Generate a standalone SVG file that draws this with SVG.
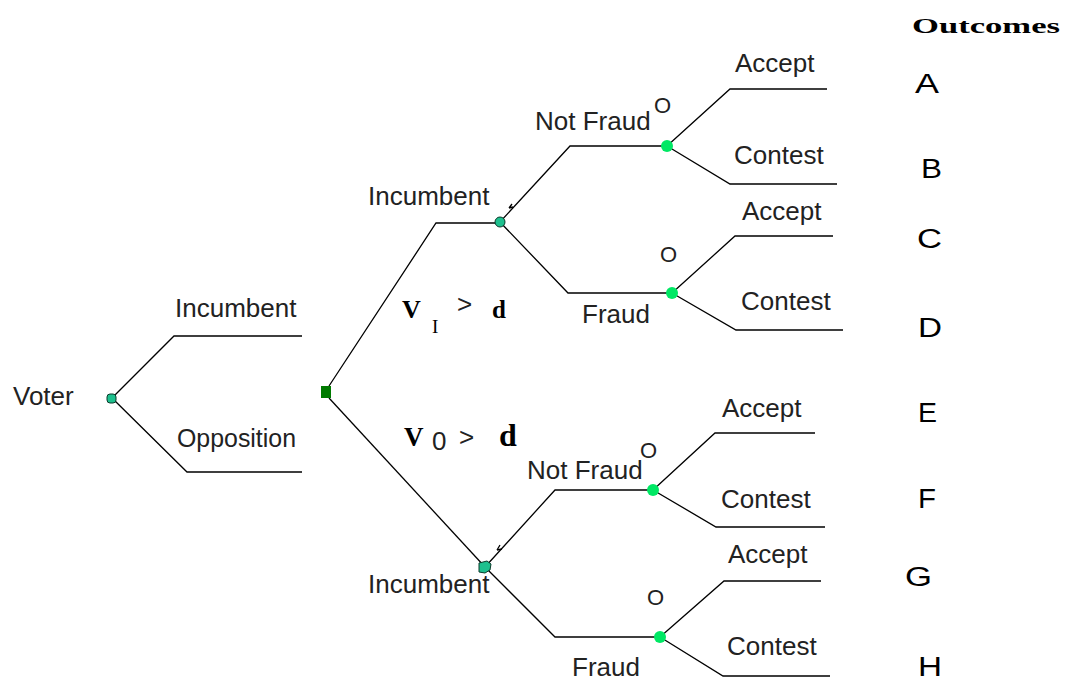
<svg xmlns="http://www.w3.org/2000/svg" width="1066" height="690" viewBox="0 0 1066 690">
<style>
.l{fill:none;stroke:#000;stroke-width:1.3}
.t{font-family:"Liberation Sans",Arial,sans-serif;font-size:26px;fill:#222}
.o{font-family:"Liberation Sans",Arial,sans-serif;font-size:22px;fill:#222}
.x{font-family:"Liberation Sans",Arial,sans-serif;font-size:27px;fill:#000}
.s{font-family:"Liberation Serif","Times New Roman",serif;font-weight:bold;fill:#000}
.sn{font-family:"Liberation Serif","Times New Roman",serif;font-weight:normal;fill:#000}
.teal{fill:#1ec08e;stroke:#0a3a2a;stroke-width:1}
.grn{fill:#00e864}
</style>
<rect width="1066" height="690" fill="#fff"/>
<g id="connectors">
<path class="l" d="M112,398 L174,336 L302,336"/>
<path class="l" d="M112,398 L187,472 L302,472"/>
<path class="l" d="M329,386 L436,223 L500,223"/>
<path class="l" d="M329,398 L485,567"/>
<path class="l" d="M500,222 L570,146 L667,146"/>
<path class="l" d="M509,208 L512,204 M509,208 L513,207"/>
<path class="l" d="M500,222 L568,293 L672,293"/>
<path class="l" d="M667,146 L730,89 L827,89"/>
<path class="l" d="M667,146 L730,184 L837,184"/>
<path class="l" d="M672,293 L735,236 L833,236"/>
<path class="l" d="M672,293 L736,330 L843,330"/>
<path class="l" d="M485,567 L555,490 L652,490"/>
<path class="l" d="M497,550 L500,545 M497,550 L502,549"/>
<path class="l" d="M485,567 L555,637 L660,637"/>
<path class="l" d="M653,490 L715,433 L815,433"/>
<path class="l" d="M653,490 L716,527 L825,527"/>
<path class="l" d="M660,637 L724,581 L821,581"/>
<path class="l" d="M660,637 L723,676 L830,676"/>
</g>
<g id="voter"><text class="t" x="13" y="405">Voter</text><rect class="teal" x="107" y="394" width="9" height="9" rx="3"/></g>
<g id="lbl-incumbent1"><text class="t" x="175" y="317">Incumbent</text></g>
<g id="lbl-opposition"><text class="t" x="177" y="447" textLength="119" lengthAdjust="spacingAndGlyphs">Opposition</text></g>
<g id="nature"><rect x="321" y="386" width="10" height="12" fill="#007a00"/></g>
<g id="lbl-vi"><text class="s" x="402" y="318" font-size="26">V</text><text class="sn" x="432" y="333" font-size="19">I</text><text class="t" x="457" y="313" font-size="19">&gt;</text><text class="s" x="492" y="318" font-size="25">d</text></g>
<g id="lbl-vo"><text class="s" x="404" y="446" font-size="27">V</text><text class="t" x="432" y="450" font-size="15">0</text><text class="t" x="459" y="446" font-size="19">&gt;</text><text class="s" x="499" y="446" font-size="32">d</text></g>
<g id="inc-upper"><text class="t" x="368" y="205">Incumbent</text><circle class="teal" cx="500" cy="222" r="5"/></g>
<g id="inc-lower"><text class="t" x="368" y="593">Incumbent</text><path class="teal" d="M479,563 L487,561 L491,564 L490,570 L485,573 L479,572 Z"/></g>
<g id="o1"><text class="t" x="535" y="130">Not Fraud</text><text class="o" x="654" y="113">O</text><circle class="grn" cx="667" cy="146" r="6"/><text class="t" x="735" y="72">Accept</text><text class="t" x="734" y="164">Contest</text></g>
<g id="o2"><text class="t" x="582" y="323">Fraud</text><text class="o" x="660" y="262">O</text><circle class="grn" cx="672" cy="293" r="6"/><text class="t" x="742" y="220">Accept</text><text class="t" x="741" y="310">Contest</text></g>
<g id="o3"><text class="t" x="527" y="479">Not Fraud</text><text class="o" x="640" y="458">O</text><circle class="grn" cx="653" cy="490" r="6"/><text class="t" x="722" y="417">Accept</text><text class="t" x="721" y="508">Contest</text></g>
<g id="o4"><text class="t" x="572" y="676">Fraud</text><text class="o" x="647" y="605">O</text><circle class="grn" cx="660" cy="637" r="6"/><text class="t" x="728" y="563">Accept</text><text class="t" x="727" y="655">Contest</text></g>
<g id="outcomes">
<text class="s" x="912" y="33" font-size="21" textLength="148" lengthAdjust="spacingAndGlyphs">Outcomes</text>
<text class="x" x="915" y="93" textLength="24" lengthAdjust="spacingAndGlyphs">A</text>
<text class="x" x="921" y="178" textLength="21" lengthAdjust="spacingAndGlyphs">B</text>
<text class="x" x="917" y="248" textLength="25" lengthAdjust="spacingAndGlyphs">C</text>
<text class="x" x="918" y="337" textLength="24" lengthAdjust="spacingAndGlyphs">D</text>
<text class="x" x="918" y="422" textLength="19" lengthAdjust="spacingAndGlyphs">E</text>
<text class="x" x="918" y="508" textLength="18" lengthAdjust="spacingAndGlyphs">F</text>
<text class="x" x="905" y="586" textLength="27" lengthAdjust="spacingAndGlyphs">G</text>
<text class="x" x="918" y="676" textLength="24" lengthAdjust="spacingAndGlyphs">H</text>
</g>
</svg>
